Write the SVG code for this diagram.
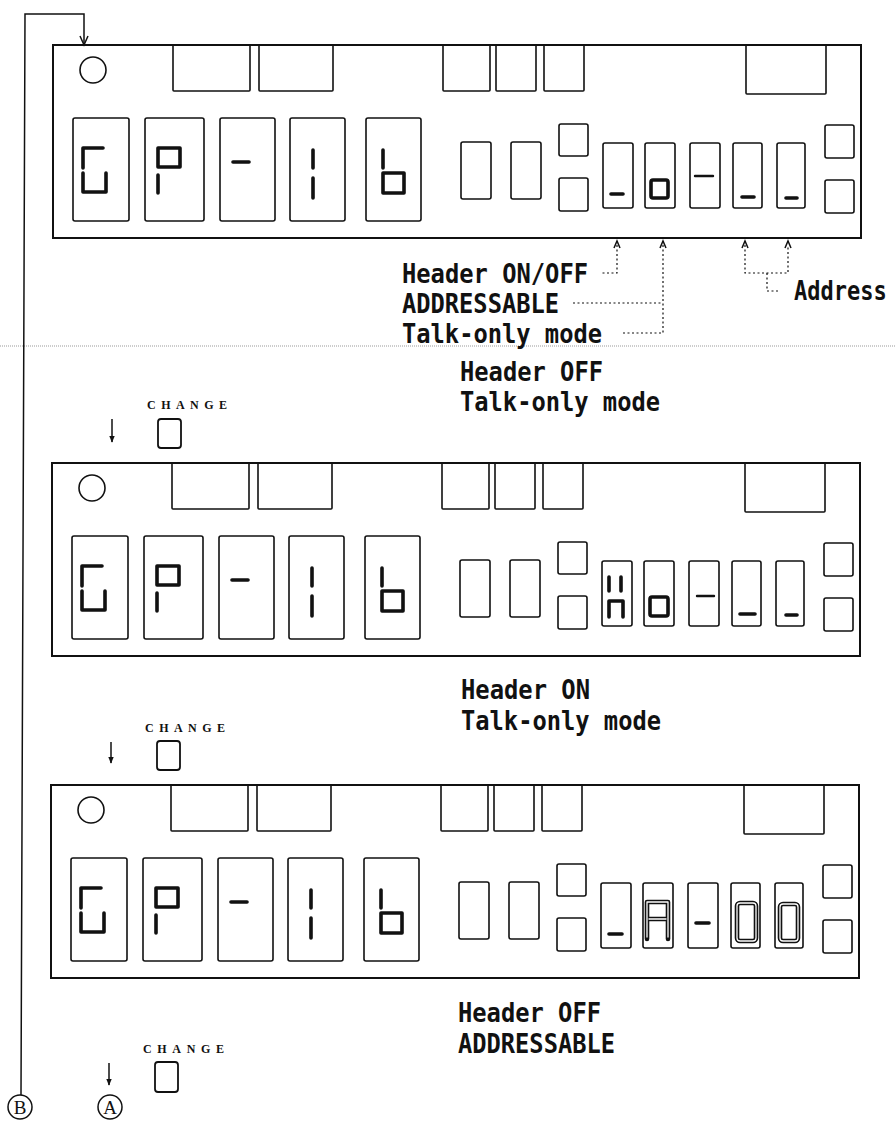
<svg xmlns="http://www.w3.org/2000/svg" xmlns:xlink="http://www.w3.org/1999/xlink" width="896" height="1121" viewBox="0 0 896 1121">
<style>
.bg{fill:#fff}
.panel{fill:#fff;stroke:#111;stroke-width:2}
.box{fill:none;stroke:#111;stroke-width:1.6}
.seg{fill:none;stroke:#111;stroke-width:3.6;stroke-linecap:round;stroke-linejoin:round}
.thin{fill:none;stroke:#111;stroke-width:2.4;stroke-linecap:round}
.hol{fill:none;stroke:#111;stroke-width:4.6;stroke-linecap:round;stroke-linejoin:round}
.holw{fill:none;stroke:#fff;stroke-width:1.3;stroke-linecap:round;stroke-linejoin:round}
.line{fill:none;stroke:#111;stroke-width:1.5}
.dot{fill:none;stroke:#111;stroke-width:1.2;stroke-dasharray:2 2.5}
.fold{fill:none;stroke:#999;stroke-width:1;stroke-dasharray:1 1}
.lbl{font-family:"DejaVu Sans Mono","Liberation Mono",monospace;font-weight:bold;font-size:27px;fill:#111}
.lbls{font-family:"DejaVu Sans Mono","Liberation Mono",monospace;font-weight:bold;font-size:22px;fill:#111}
.chg{font-family:"Liberation Serif",serif;font-weight:bold;font-size:12px;fill:#111}
.circ{font-family:"Liberation Serif",serif;font-size:19px;fill:#111;text-anchor:middle}
.btn{fill:#fff;stroke:#111;stroke-width:1.8}
</style>
<defs>
<marker id="ah" viewBox="0 0 10 10" refX="9" refY="5" markerWidth="7" markerHeight="7" orient="auto" markerUnits="userSpaceOnUse">
<path d="M0,1 L10,5 L0,9 Z" fill="#111"/>
</marker>
<g id="panelBase">
<rect class="panel" x="0" y="0" width="808" height="193"/>
<circle class="box" cx="40" cy="25" r="13"/>
<rect class="box" x="120" y="0" width="77" height="46" rx="1"/>
<rect class="box" x="206" y="0" width="74" height="46" rx="1"/>
<rect class="box" x="390" y="0" width="47" height="46" rx="1"/>
<rect class="box" x="443" y="0" width="40" height="46" rx="1"/>
<rect class="box" x="491" y="0" width="40" height="46" rx="1"/>
<rect class="box" x="693" y="0" width="80" height="49" rx="1"/>
<rect class="box" x="20" y="73" width="56" height="103" rx="2"/>
<rect class="box" x="92" y="73" width="59" height="103" rx="2"/>
<rect class="box" x="167" y="73" width="55" height="103" rx="2"/>
<rect class="box" x="237" y="73" width="55" height="103" rx="2"/>
<rect class="box" x="313" y="73" width="55" height="103" rx="2"/>
<rect class="box" x="408" y="97" width="30" height="57" rx="2"/>
<rect class="box" x="458" y="97" width="30" height="57" rx="2"/>
<rect class="box" x="506" y="79" width="29" height="32" rx="2"/>
<rect class="box" x="506" y="133" width="29" height="33" rx="2"/>
<rect class="box" x="550" y="98" width="30" height="65" rx="2"/>
<rect class="box" x="592" y="98" width="30" height="65" rx="2"/>
<rect class="box" x="637" y="98" width="30" height="65" rx="2"/>
<rect class="box" x="680" y="98" width="29" height="65" rx="2"/>
<rect class="box" x="724" y="98" width="28" height="65" rx="2"/>
<rect class="box" x="772" y="80" width="29" height="33" rx="2"/>
<rect class="box" x="772" y="135" width="29" height="33" rx="2"/>
<path class="seg" d="M30,123 V103 H50 M30,128 V147 H53 V128"/>
<path class="seg" d="M105,103 H127 V122 H105 Z M105,130 V148"/>
<path class="seg" d="M180,117 H196"/>
<path class="seg" d="M260,105 V123 M260,133 V153"/>
<path class="seg" d="M330,105 V123 M330,128 H351 V148 H330 Z"/>
</g>
</defs>
<rect class="bg" x="0" y="0" width="896" height="1121"/>

<g id="fold-line">
<path class="fold" d="M0,346 H896"/>
</g>

<g id="panel1" transform="translate(53,45)">
<use xlink:href="#panelBase" href="#panelBase"/>
<path class="seg" d="M558,149 H570"/>
<rect class="seg" x="598" y="135" width="17" height="18" rx="2"/>
<path class="thin" d="M642,131 H660"/>
<path class="seg" d="M689,152 H701"/>
<path class="seg" d="M733,153 H744"/>
</g>

<g id="panel2" transform="translate(52,463)">
<use xlink:href="#panelBase" href="#panelBase"/>
<path class="seg" d="M557,114 V128 M569,114 V128 M557,154 V138 H571 V154"/>
<rect class="seg" x="598" y="134" width="18" height="19" rx="2"/>
<path class="thin" d="M645,133 H662"/>
<path class="seg" d="M688,151 H703"/>
<path class="seg" d="M734,152 H745"/>
</g>

<g id="panel3" transform="translate(51,785)">
<use xlink:href="#panelBase" href="#panelBase"/>
<path class="seg" d="M558,149 H571"/>
<path class="hol" d="M596,154 V117 H617 V154 M596,134 H617"/>
<path class="holw" d="M596,152 V117 H617 V152 M598,134 H615"/>
<path class="seg" d="M645,138 H658"/>
<rect class="hol" x="686" y="118" width="19" height="38" rx="3"/>
<rect class="holw" x="686" y="118" width="19" height="38" rx="3"/>
<rect class="hol" x="729" y="119" width="18" height="37" rx="3"/>
<rect class="holw" x="729" y="119" width="18" height="37" rx="3"/>
</g>

<g id="labels-panel1">
<text class="lbl" x="402" y="283" textLength="186" lengthAdjust="spacingAndGlyphs">Header ON/OFF</text>
<text class="lbl" x="402" y="313" textLength="157" lengthAdjust="spacingAndGlyphs">ADDRESSABLE</text>
<text class="lbl" x="402" y="343" textLength="200" lengthAdjust="spacingAndGlyphs">Talk-only mode</text>
<text class="lbls" transform="translate(794,300) scale(1,1.22)" x="0" y="0">Address</text>
<text class="lbl" x="460" y="381" textLength="143" lengthAdjust="spacingAndGlyphs">Header OFF</text>
<text class="lbl" x="460" y="411" textLength="200" lengthAdjust="spacingAndGlyphs">Talk-only mode</text>
</g>
<g id="labels-panel2">
<text class="lbl" x="461" y="699" textLength="129" lengthAdjust="spacingAndGlyphs">Header ON</text>
<text class="lbl" x="461" y="730" textLength="200" lengthAdjust="spacingAndGlyphs">Talk-only mode</text>
</g>
<g id="labels-panel3">
<text class="lbl" x="458" y="1022" textLength="143" lengthAdjust="spacingAndGlyphs">Header OFF</text>
<text class="lbl" x="458" y="1053" textLength="157" lengthAdjust="spacingAndGlyphs">ADDRESSABLE</text>
</g>

<g id="change1">
<text class="chg" x="147" y="409" textLength="80">CHANGE</text>
<rect class="btn" x="158" y="419" width="23" height="29" rx="3"/>
</g>
<g id="change2">
<text class="chg" x="145" y="732" textLength="80">CHANGE</text>
<rect class="btn" x="157" y="741" width="23" height="29" rx="3"/>
</g>
<g id="change3">
<text class="chg" x="143" y="1053" textLength="81">CHANGE</text>
<rect class="btn" x="155" y="1062" width="23" height="30" rx="3"/>
</g>

<g id="marker-A">
<circle class="line" cx="110" cy="1107" r="12"/>
<text class="circ" x="110" y="1114">A</text>
</g>
<g id="marker-B">
<circle class="line" cx="20" cy="1107" r="12"/>
<text class="circ" x="20" y="1114">B</text>
</g>

<g id="connectors">
<path class="line" d="M21,1095 L25,14 H84 V45"/>
<path class="line" d="M80,36 L84,45 L88,36"/>
<path class="line" d="M112,419 V442" marker-end="url(#ah)"/>
<path class="line" d="M111,742 V763" marker-end="url(#ah)"/>
<path class="line" d="M109,1063 V1085" marker-end="url(#ah)"/>
<path class="line" d="M614,248 L617,241 L620,248 M660,248 L663,241 L666,248 M742,248 L745,241 L748,248 M785,248 L788,241 L791,248"/>
<path class="dot" d="M617,245 V273 H601"/>
<path class="dot" d="M663,245 V333"/>
<path class="dot" d="M573,303 H663"/>
<path class="dot" d="M623,333 H663"/>
<path class="dot" d="M745,245 V273 H788 V245"/>
<path class="dot" d="M767,273 V291 H779"/>
</g>
</svg>
